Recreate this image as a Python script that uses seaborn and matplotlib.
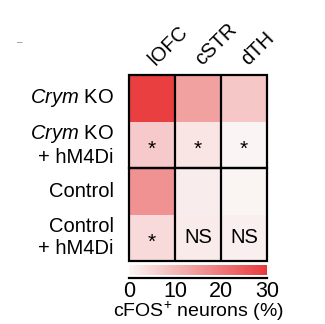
import numpy as np
import pandas as pd
import matplotlib
matplotlib.use("Agg")
import matplotlib.pyplot as plt
import seaborn as sns
from matplotlib.colors import LinearSegmentedColormap
from matplotlib.patches import Rectangle

regions = ["lOFC", "cSTR", "dTH"]
groups = ["$\\it{Crym}$ KO", "$\\it{Crym}$ KO\n+ hM4Di", "Control", "Control\n+ hM4Di"]
crym_ko = [29.0, 13.5, 7.5]
crym_ko_hm4di = [7.0, 2.7, 0.3]
control = [16.0, 1.6, 0.4]
control_hm4di = [4.5, 1.8, 1.1]
annotations = [["", "", ""], ["*", "*", "*"], ["", "", ""], ["*", "NS", "NS"]]
cbar_ticks = [0, 10, 20, 30]

sns.set_style("white")
plt.rcParams['font.family'] = ['Liberation Sans', 'DejaVu Sans']
plt.rcParams['mathtext.fontset'] = 'custom'
plt.rcParams['mathtext.rm'] = 'Liberation Sans'
plt.rcParams['mathtext.it'] = 'Liberation Sans:italic'
plt.rcParams['text.color'] = 'black'
plt.rcParams['xtick.color'] = 'black'
plt.rcParams['ytick.color'] = 'black'
plt.rcParams['axes.labelcolor'] = 'black'

df = pd.DataFrame([crym_ko, crym_ko_hm4di, control, control_hm4di], index=groups, columns=regions)
cmap = LinearSegmentedColormap.from_list("wr", ["#FAF6F5", "#E8393B"])

fig = plt.figure(figsize=(3.25, 3.24), dpi=100)
ax = fig.add_axes([129/325, 1-261/324, 138/325, 186/324])
cax = fig.add_axes([129/325, 1-275/324, 138/325, 10/324])

sns.heatmap(df, ax=ax, cmap=cmap, vmin=0, vmax=30, cbar=True, cbar_ax=cax,
            cbar_kws={"orientation": "horizontal"}, annot=np.array(annotations), fmt="",
            annot_kws={"fontsize": 14.5, "color": "black"}, linewidths=0)

for t in ax.texts:
    if t.get_text() == "*":
        x, y = t.get_position()
        t.set_position((x, y + 0.1))
        t.set_fontsize(15)

ax.xaxis.tick_top()
ax.set_xticklabels(regions, rotation=45, ha="left", va="center", rotation_mode="anchor", fontsize=14.5)
ax.tick_params(axis="x", length=0, pad=9)
ax.set_yticklabels(groups, rotation=0, fontsize=14.5, ha="right", va="center")
ax.tick_params(axis="y", length=0, pad=11)
ax.set_xlabel("")
ax.set_ylabel("")

lw = 1.6
for y0 in [0, 2]:
    ax.add_patch(Rectangle((0, y0), 3, 2, fill=False, edgecolor="black", lw=lw, clip_on=False))
for x in [1, 2]:
    ax.plot([x, x], [0, 4], color="black", lw=lw)

cax.set_xticks([])
cax.set_yticks([])
for s in cax.spines.values():
    s.set_visible(False)
if ax.collections and ax.collections[0].colorbar is not None:
    ax.collections[0].colorbar.outline.set_visible(False)

sax = fig.add_axes([129/325, 1-278/324, 138/325, 0.001])
sax.set_xlim(0, 30)
sax.set_yticks([])
for s in ["top", "left", "right"]:
    sax.spines[s].set_visible(False)
sax.spines["bottom"].set_linewidth(1.6)
sax.spines["bottom"].set_color("black")
sax.set_xticks(cbar_ticks)
sax.tick_params(axis="x", direction="in", length=6, width=1.6, labelsize=15.5, pad=2)
sax.patch.set_alpha(0)

fig.text(198/325, 1-317/324, "cFOS$^{+}$ neurons (%)", fontsize=14, ha="center", va="baseline")
fig.text(20/325, 1-42/324, "–", fontsize=7, color="#888888", ha="center", va="center")

fig.savefig("out.png", dpi=100)
